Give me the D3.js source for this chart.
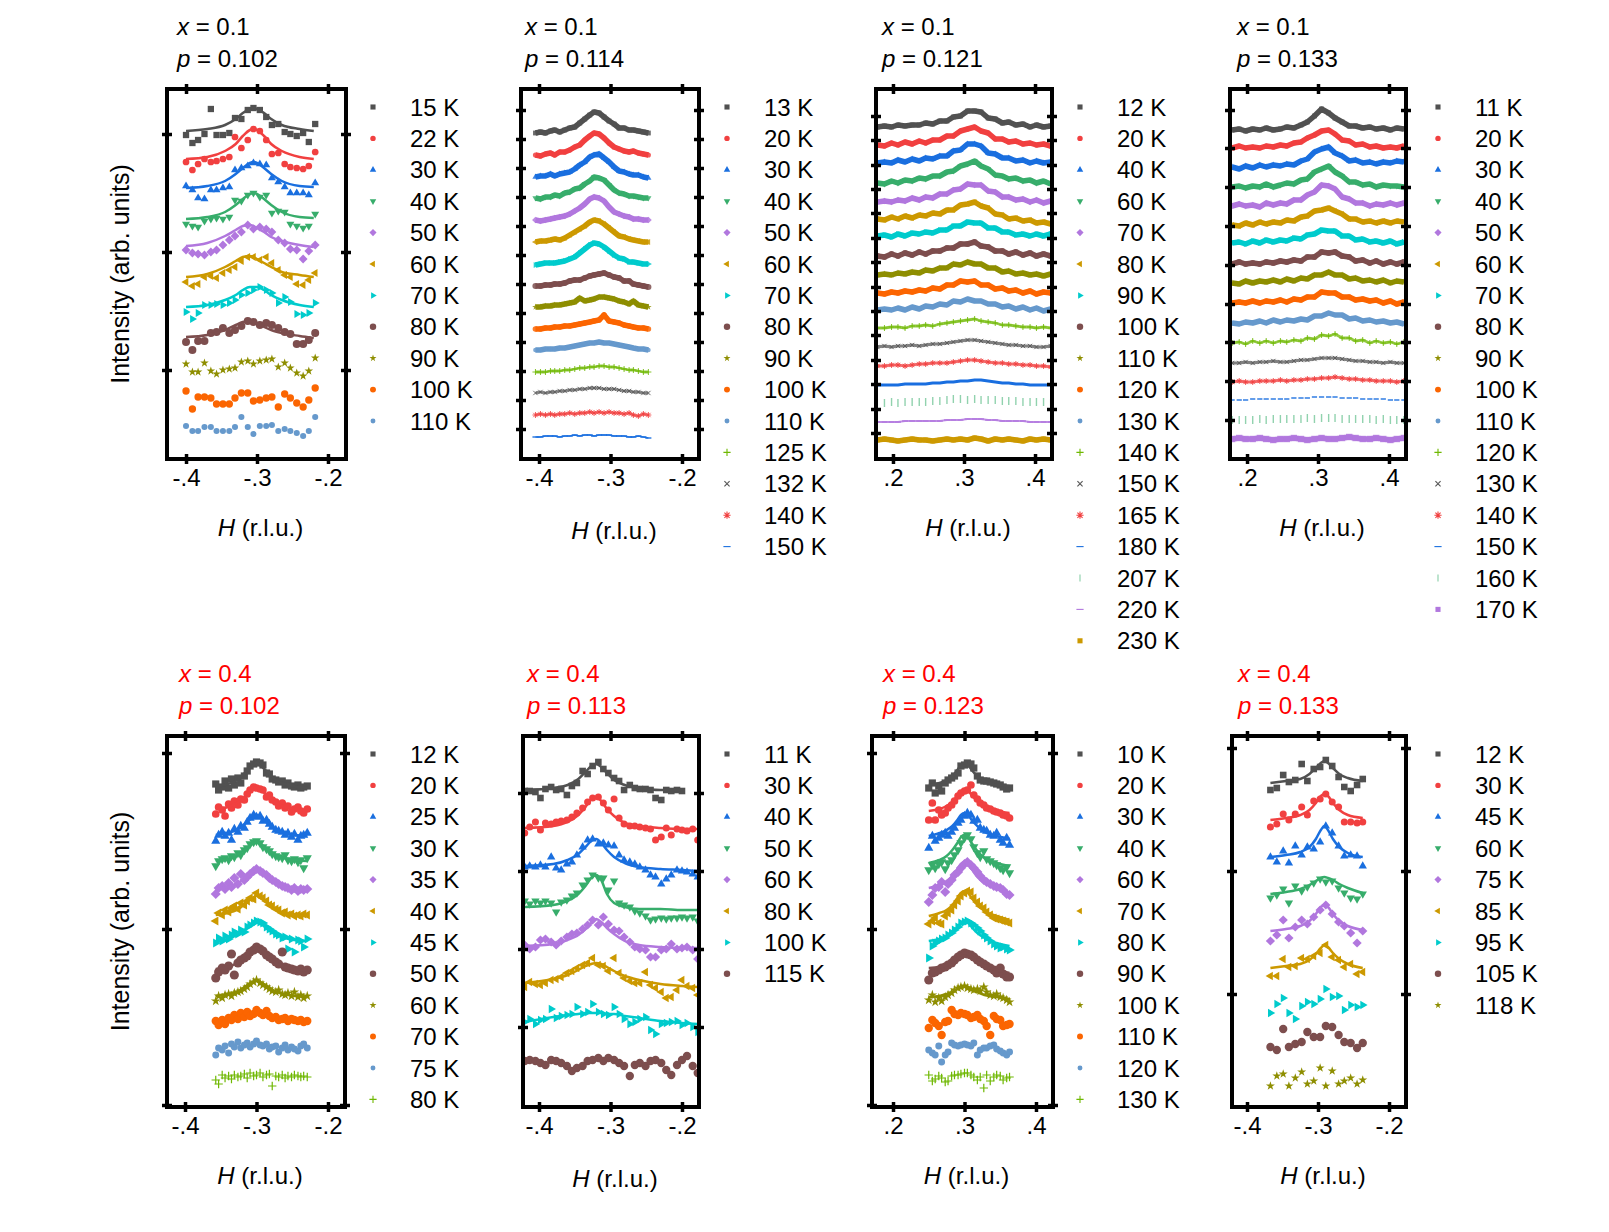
<!DOCTYPE html>
<html><head><meta charset="utf-8">
<script src="https://cdn.jsdelivr.net/npm/d3@7"></script>
<style>body{margin:0;background:#fff}svg{display:block}</style>
</head><body>
<svg id="c" width="1609" height="1232"></svg>
<script>
// ---------------- DATA ----------------
const xTicksNeg = [-0.4, -0.3, -0.2];
const xTicksPos = [0.2, 0.3, 0.4];

// Panel 1: x = 0.1, p = 0.102
const p1_H = [-0.400,-0.391,-0.383,-0.374,-0.365,-0.357,-0.348,-0.339,-0.331,-0.322,-0.313,-0.305,-0.296,-0.287,-0.279,-0.270,-0.261,-0.253,-0.244,-0.235,-0.227,-0.218];
const p1_T = [15,22,30,40,50,60,70,80,90,100,110];
const p1_off = [237,208,180,149,120,90,60,30,0,-30,-58];
const p1_I = [
[-2,-10,-7,-1,24,-2,-2,0,15,14,23,25,23,16,8,9,1,-1,-3,0,-9,9],
[0,-8,-2,3,0,1,3,5,25,14,22,33,31,22,8,9,-2,-5,-6,-7,-4,10],
[4,0,-8,-9,0,0,2,3,20,22,24,27,26,25,12,8,3,-3,-3,-3,-5,7],
[-3,-5,-6,0,2,3,2,4,21,20,26,28,24,26,8,10,9,-3,-5,-7,-5,7],
[0,-3,-4,-5,-2,0,5,10,14,18,25,21,23,21,18,10,7,1,0,-9,-1,5],
[-2,-6,-4,3,4,2,7,10,13,19,23,23,20,23,17,10,5,3,-4,-5,0,7],
[-2,-9,-3,5,5,6,5,7,10,15,17,20,23,20,17,7,13,8,-4,-5,-3,7],
[-2,-10,-1,-1,7,8,12,7,10,14,19,18,15,17,15,12,8,6,-4,-4,0,7],
[6,-2,-2,7,-1,-4,0,1,2,8,9,6,9,10,11,3,7,2,-3,-6,-1,12],
[9,-9,3,3,2,-4,-4,-4,2,7,7,-1,0,2,3,-7,6,2,-3,-7,0,12],
[2,-3,-3,1,1,-3,-3,-3,1,11,1,-6,2,2,3,-3,-1,-3,-5,-8,-3,11]];
const p1_fitH = [-0.40,-0.37,-0.345,-0.33,-0.32,-0.31,-0.305,-0.30,-0.29,-0.28,-0.265,-0.24,-0.22];
const p1_fit = [
[2,4,8,14,20,24,25,24,20,14,8,4,2],
[3,5,11,18,26,32,33,32,26,18,11,5,3],
[2,4,9,16,22,27,28,27,22,16,9,4,3],
[2,4,9,16,22,27,28,27,22,16,9,4,3],
[4,7,14,20,24,25,24,22,18,13,9,5,3],
[3,6,13,19,23,24,23,21,17,13,8,5,3],
[3,5,10,15,20,23,23,23,20,15,10,5,3],
[3,5,10,15,18,19,18,17,13,10,7,4,2],
null,null,null];
const p1_yTicks = [0,118,236];

// Panel 2: x = 0.1, p = 0.114
const p2_H = [-0.405,-0.398,-0.391,-0.384,-0.378,-0.371,-0.364,-0.357,-0.350,-0.343,-0.336,-0.329,-0.323,-0.316,-0.309,-0.302,-0.295,-0.288,-0.281,-0.274,-0.268,-0.261,-0.254,-0.247];
const p2_T = [13,20,30,40,50,60,70,80,90,100,110,125,132,140,150];
const p2_off = [296,274,252,231,209,187,165,143,122,100,79,57,36,14,-8];
const p2_I = [
[0,1,0,2,3,1,3,5,6,10,14,18,21,20,16,12,9,5,5,3,3,2,1,0],
[0,-1,1,2,0,3,3,5,8,10,15,19,22,21,17,12,8,6,4,3,4,2,1,0],
[0,1,1,3,1,3,4,5,8,12,15,20,22,23,19,15,10,6,5,3,2,2,0,-1],
[0,-1,1,1,3,2,5,6,9,10,14,17,21,20,18,13,8,5,4,2,2,1,0,0],
[0,-1,0,1,2,3,4,6,9,12,16,21,23,22,19,13,8,6,4,3,1,1,0,0],
[0,1,1,2,3,2,4,7,10,13,16,20,22,21,18,14,10,6,5,3,2,1,0,0],
[-1,0,1,1,1,2,3,5,7,11,15,19,21,20,17,13,9,6,5,2,2,1,0,0],
[0,0,1,1,2,2,3,5,6,6,8,10,11,12,13,11,9,8,5,5,2,1,0,-1],
[0,0,1,1,2,2,3,4,5,9,6,7,8,10,10,9,8,6,5,3,6,2,1,0],
[0,0,1,1,2,2,3,3,4,5,6,7,8,9,14,8,7,6,4,3,2,1,1,0],
[0,0,1,1,1,2,2,3,4,5,6,7,7,8,7,7,6,5,4,3,2,1,1,0],
[0,0,0,1,1,1,2,2,3,4,4,5,5,6,6,5,5,4,3,2,2,1,0,0],
[0,1,0,1,1,2,2,3,3,4,4,5,5,5,4,4,4,3,2,2,1,1,0,0],
[0,1,0,1,0,1,1,2,1,2,2,3,2,3,2,3,2,2,1,2,0,-1,1,0],
[0,0,1,1,1,0,1,1,2,1,2,2,1,2,2,2,1,1,1,0,0,1,0,-1]];
const p2_yTicks = [0,29,58,87,116,145,174,203,232,261,290,319];

// Panel 3: x = 0.1, p = 0.121
const p3_H = [0.178,0.188,0.198,0.207,0.217,0.227,0.237,0.246,0.256,0.266,0.276,0.285,0.295,0.305,0.315,0.324,0.334,0.344,0.354,0.363,0.373,0.383,0.393,0.402,0.412,0.422];
const p3_T = [12,20,40,60,70,80,90,100,110,120,130,140,150,165,180,207,220,230];
const p3_off = [306,288,270,250,231,214,197,177,158,140,123,105,86,67,48,30,11,-7];
const p3_I = [
[0,1,0,2,1,2,2,4,3,6,6,10,11,16,16,15,9,8,4,5,2,3,0,2,0,1],
[0,-1,2,0,3,1,4,2,5,5,9,9,14,16,18,14,12,6,6,3,4,1,2,0,1,-1],
[0,1,0,3,1,4,2,5,4,7,7,12,13,19,19,17,10,9,5,5,2,3,0,2,0,1],
[0,-1,2,0,3,2,5,4,7,7,11,12,17,19,22,17,14,8,7,4,5,2,3,0,2,-1],
[0,1,0,2,1,4,2,5,4,8,8,12,13,18,17,17,11,10,5,5,2,3,0,2,-1,1],
[0,-1,2,0,3,1,4,3,6,5,9,9,14,15,17,13,11,5,4,0,1,-2,-1,-4,-3,-5],
[0,1,-1,2,0,3,2,4,3,6,6,10,10,14,13,13,8,8,4,4,1,2,0,2,0,2],
[0,-1,2,0,3,1,4,2,5,5,8,8,12,12,14,10,9,5,5,2,4,1,3,0,2,0],
[0,1,0,2,1,3,2,5,4,7,7,11,10,13,11,11,7,7,3,4,1,2,0,1,-1,1],
[0,-1,1,0,2,1,3,2,5,4,8,8,12,11,12,8,8,4,5,2,3,0,2,-1,1,0],
[0,1,0,2,0,3,1,4,3,6,5,9,8,11,9,9,6,6,3,4,1,3,0,2,-1,1],
[0,0,1,1,0,2,2,3,2,4,5,6,7,8,9,7,6,5,3,3,2,1,1,0,1,0],
[0,1,0,1,1,2,1,2,3,3,4,5,6,7,7,6,5,4,3,2,2,1,1,0,0,1],
[0,0,1,1,0,1,2,2,3,3,3,4,5,6,6,5,4,3,3,2,2,1,1,0,0,-1],
[0,0,0,0,1,1,1,1,2,2,3,3,4,4,5,5,4,3,2,2,1,1,0,0,0,0],
[0,0,1,0,1,1,1,1,2,2,3,4,4,3,4,3,3,3,2,2,2,1,1,1,1,0],
[0,0,0,0,1,1,1,1,1,1,2,2,2,3,3,3,2,2,1,1,1,1,0,0,0,0],
[0,1,0,-1,0,1,0,0,-1,0,1,0,1,0,2,1,-1,1,0,1,0,-1,1,0,1,0]];
const p3_yTicks = [0,24,49,73,98,122,146,171,195,220,244,268,293,317];

// Panel 4: x = 0.1, p = 0.133
const p4_H = [0.179,0.189,0.198,0.208,0.218,0.227,0.237,0.247,0.256,0.266,0.276,0.285,0.295,0.305,0.315,0.324,0.334,0.344,0.353,0.363,0.373,0.382,0.392,0.402,0.411,0.421];
const p4_T = [11,20,30,40,50,60,70,80,90,100,110,120,130,140,150,160,170];
const p4_off = [290,272,253,233,214,195,177,156,137,117,97,77,57,38,20,0,-19];
const p4_I = [
[0,1,-1,1,0,2,0,1,3,2,5,8,14,21,17,12,8,4,4,2,3,1,2,0,2,1],
[0,2,0,1,0,2,1,3,2,5,6,10,13,17,18,14,8,7,3,4,1,2,0,1,0,2],
[0,-2,1,-1,2,0,2,1,3,2,6,8,15,18,20,14,11,6,7,4,5,3,5,4,6,5],
[0,1,-1,1,0,3,0,2,4,3,7,8,15,18,21,15,11,5,5,2,3,0,2,1,1,0],
[0,2,0,1,-1,3,1,3,2,6,6,11,14,21,20,17,9,7,3,3,0,2,1,3,1,3],
[0,-1,2,0,3,1,3,2,5,4,8,9,14,15,17,14,11,6,6,3,4,2,4,2,4,3],
[0,1,-1,2,0,3,1,3,2,5,4,8,9,13,12,12,7,7,3,4,1,2,0,2,-1,1],
[0,2,0,1,0,2,1,3,2,4,3,7,7,12,11,12,8,7,3,4,1,3,0,2,0,2],
[0,-1,2,0,2,1,3,1,4,2,5,4,8,8,11,8,8,4,5,2,3,1,3,0,2,1],
[0,1,0,2,0,2,1,3,1,4,3,6,6,11,10,10,6,6,3,4,2,3,0,2,-1,1],
[0,-1,1,0,2,0,3,1,3,2,4,3,7,7,10,8,8,4,5,2,3,1,2,0,1,-1],
[0,1,-1,2,0,2,0,2,1,3,2,5,4,8,7,9,5,5,2,3,0,2,0,1,-1,1],
[0,0,1,0,1,1,2,1,1,2,3,3,4,5,5,5,4,3,2,2,1,1,0,1,0,0],
[0,1,0,0,1,1,1,2,1,2,2,3,3,4,4,5,4,3,3,2,2,1,1,1,0,1],
[0,0,0,1,1,1,1,1,1,2,2,2,3,3,3,3,2,2,2,1,1,1,1,0,0,0],
[0,0,0,0,1,0,1,1,1,1,1,2,1,2,2,2,1,1,1,1,1,0,1,0,0,0],
[0,1,0,0,1,0,-1,0,0,1,0,-1,0,1,0,0,1,2,1,0,0,1,0,-1,0,1]];
const p4_yTicks = [0,39,78,116,155,194,233,272,310];

// Panel 5: x = 0.4, p = 0.102
const p5_H = [-0.357,-0.353,-0.348,-0.344,-0.339,-0.335,-0.331,-0.326,-0.322,-0.317,-0.313,-0.309,-0.304,-0.300,-0.295,-0.291,-0.286,-0.282,-0.278,-0.273,-0.269,-0.264,-0.260,-0.256,-0.251,-0.247,-0.242,-0.238,-0.234,-0.229];
const p5_T = [12,20,25,30,35,40,45,50,60,70,75,80];
const p5_off = [315,293,267,242,213,187,162,133,107,82,55,27];
const p5_I = [
[6,0,3,9,2,11,5,12,7,14,19,24,26,28,27,25,17,16,11,10,8,9,5,7,4,3,5,2,3,4],
[-2,5,2,-4,8,4,11,7,13,12,18,22,25,24,23,22,15,17,12,10,6,9,4,6,0,3,5,1,-1,3],
[-3,3,6,2,5,-2,9,6,12,10,16,20,23,21,22,17,18,14,11,8,7,6,3,5,1,4,-2,2,3,5],
[-3,2,4,5,3,7,6,10,8,13,15,19,21,22,20,16,14,12,9,7,6,5,8,3,2,4,1,3,-5,5],
[-2,4,6,3,9,5,14,8,18,12,15,18,21,23,21,19,17,14,12,10,8,6,5,4,2,4,1,3,2,3],
[-3,5,3,8,6,10,12,9,15,13,17,20,19,25,22,20,17,13,12,9,8,5,6,3,4,2,3,2,4,3],
[0,5,2,7,4,8,11,9,13,11,16,18,20,22,21,20,16,14,12,9,8,5,6,-6,4,-9,3,2,-4,4],
[-6,0,4,2,6,18,-3,9,12,14,16,20,22,25,23,21,17,15,13,10,8,20,5,4,3,2,1,3,0,2],
[-3,2,0,3,4,2,5,6,7,9,11,14,16,18,15,13,11,9,7,6,8,4,3,5,2,6,1,3,0,2],
[2,-2,3,-1,5,3,8,4,10,6,11,7,9,13,10,8,12,7,5,6,3,4,5,2,4,3,2,3,1,2],
[-5,2,0,4,-3,6,3,8,2,5,7,3,6,9,5,4,6,1,3,4,-2,2,5,0,3,1,-1,4,6,2],
[-2,-6,3,0,2,-1,3,1,2,4,0,5,2,3,5,1,3,4,-8,2,1,3,0,2,1,3,2,1,2,1]];
const p5_fitH = [-0.357,-0.340,-0.325,-0.315,-0.308,-0.303,-0.300,-0.297,-0.292,-0.285,-0.275,-0.255,-0.229];
const p5_fit = [
[3,6,11,18,23,26,28,26,23,18,11,5,2],
[3,5,10,16,21,23,25,23,21,16,10,4,2],
[3,5,9,15,19,21,23,21,19,15,9,4,2],
[2,4,9,14,18,20,22,20,18,14,9,4,2],
[3,5,9,15,19,21,23,21,19,15,9,4,2],
[3,5,9,15,19,21,23,21,19,15,9,4,2],
[2,4,9,14,18,20,22,20,18,14,9,4,2],
[3,5,10,16,21,23,25,23,21,16,10,4,2],
[2,4,7,12,15,17,18,17,15,12,7,3,1],
null,null,null];
const p5_yTicks = [0,176,352];

// Panel 6: x = 0.4, p = 0.113
const p6_H = [-0.420,-0.413,-0.405,-0.398,-0.391,-0.383,-0.376,-0.369,-0.361,-0.354,-0.347,-0.339,-0.332,-0.325,-0.317,-0.310,-0.303,-0.295,-0.288,-0.281,-0.273,-0.266,-0.259,-0.251,-0.244,-0.237,-0.229,-0.222,-0.215,-0.207,-0.200,-0.193,-0.185,-0.178];
const p6_T = [11,30,40,50,60,80,100,115];
const p6_off = [236,197,160,119,80,42,5,-36];
const p6_I = [
[0,0,-1,-7,2,4,1,2,-4,5,8,20,17,25,29,22,18,13,10,1,6,3,2,2,1,-7,-9,1,0,1,0],
[-3,3,8,0,7,6,8,9,10,13,17,22,28,32,33,27,20,31,12,6,4,4,3,2,1,-10,-7,2,-5,1,0,-1,1,-10],
[0,1,0,2,0,10,-1,-3,3,5,12,20,27,28,23,24,22,21,12,7,5,3,0,-3,-8,-10,-17,-12,-8,-3,-4,-5,-7,-10],
[7,4,7,5,7,5,-4,6,8,12,15,23,28,33,30,30,18,27,5,3,1,-3,-5,-8,-12,-11,-10,-11,-10,-10,-9,-10,-9,-13],
[2,-2,0,7,8,5,2,6,10,13,14,18,22,27,22,30,23,17,16,10,5,0,-2,-3,-10,-10,-3,-2,3,-2,-1,0,-3,-12],
[-2,3,1,0,2,5,6,8,12,14,17,20,22,27,20,19,14,27,12,7,4,2,2,13,0,-3,-7,-13,-12,-5,5,-1,-3,-10],
[0,3,-2,2,3,13,4,6,7,8,15,8,10,18,10,8,7,15,8,3,-2,0,3,5,-8,-12,-2,-1,0,1,-3,-1,-5,-10],
[2,3,2,0,-2,3,2,0,-3,-8,-5,-3,2,3,5,2,5,3,0,-3,-13,-2,0,-3,2,3,0,-7,-12,-2,3,7,-3,-10]];
const p6_fitH = [-0.42,-0.38,-0.36,-0.345,-0.335,-0.327,-0.320,-0.313,-0.305,-0.295,-0.28,-0.26,-0.23,-0.20,-0.178];
const p6_fit = [
[1,3,6,12,19,25,27,24,18,11,6,3,1,1],
[2,4,8,15,23,31,33,29,21,14,7,4,2,1,1],
[1,3,7,13,20,26,28,24,17,10,4,0,-2,-3,-4],
[1,3,7,14,22,30,33,28,14,5,1,-1,-1,-2,-2],
[1,3,7,12,18,24,28,25,19,13,6,2,0,-1,-1],
[2,6,10,15,19,21,22,21,18,14,9,5,1,-1,-2],
[0,5,7,8,9,9,9,9,8,8,6,4,1,-1,-2],
null];
const p6_yTicks = [0,78,156,234];

// Panel 7: x = 0.4, p = 0.123
const p7_H = [0.250,0.255,0.259,0.264,0.268,0.273,0.277,0.282,0.286,0.291,0.295,0.300,0.304,0.309,0.313,0.318,0.322,0.327,0.331,0.336,0.341,0.345,0.350,0.354,0.359,0.363];
const p7_T = [10,20,30,40,60,70,80,90,100,110,120,130];
const p7_off = [317,292,267,240,215,187,162,135,107,82,55,27];
const p7_I = [
[0,5,-5,2,-3,5,8,10,12,15,22,23,25,24,20,12,8,7,7,6,5,4,3,1,-1,0],
[-7,10,-7,3,-2,0,5,8,12,17,20,22,23,28,18,14,10,8,5,4,2,1,0,-2,-3,-5],
[-10,2,-3,0,3,5,2,6,10,15,18,22,25,23,17,18,10,8,7,3,2,5,-2,-5,0,-7],
[-5,0,-3,1,3,-4,2,5,10,15,22,27,30,26,18,12,8,14,6,4,2,0,-3,-5,-2,-8],
[-12,-5,2,3,8,-2,6,10,15,18,22,26,28,25,22,18,14,10,8,6,4,3,2,0,-4,-5],
[-6,-3,0,-5,-6,2,5,8,13,17,22,25,27,26,20,16,12,10,6,3,0,-1,-2,-3,-4,-5],
[-15,-3,0,2,4,5,8,10,13,16,20,21,22,20,18,15,12,8,5,2,-1,-3,-5,-4,-6,-7],
[-10,-3,-2,0,2,3,5,7,10,13,15,17,16,15,13,10,8,6,4,2,0,-3,2,-4,-7,-7],
[-2,3,-4,0,-3,1,3,5,8,10,11,12,10,9,8,9,7,11,6,3,2,4,1,0,-2,-4],
[-5,3,0,-3,-12,1,2,13,9,8,10,9,8,5,6,8,4,2,-3,-12,7,4,3,-3,-2,-1],
[0,-3,-5,4,-12,-5,-2,7,5,4,5,6,5,4,7,-5,0,2,2,4,5,1,-1,-3,-5,-2],
[3,-3,-1,2,0,-4,-3,2,3,3,4,5,5,3,1,-2,1,-10,3,-3,1,3,2,-2,0,1]];
const p7_fitH = [0.250,0.265,0.275,0.283,0.290,0.295,0.300,0.305,0.310,0.318,0.328,0.345,0.363];
const p7_fit = [
[3,5,8,12,18,23,25,23,18,12,7,3,2],
[2,4,7,11,17,21,23,22,18,12,6,2,0],
[2,5,8,12,18,23,25,23,18,12,6,2,-1],
[2,5,9,15,22,28,30,28,22,14,7,2,-1],
[2,5,9,14,21,26,28,26,21,13,7,2,-3],
[2,5,8,13,20,25,27,25,20,13,7,2,-2],
[2,4,7,11,16,20,22,20,16,10,5,0,-3],
[2,3,5,8,12,16,17,16,13,8,4,0,-3],
[1,2,4,6,9,11,12,11,9,6,3,1,-1],
null,null,null];
const p7_yTicks = [0,176,352];

// Panel 8: x = 0.4, p = 0.133
const p8_H = [-0.367,-0.358,-0.349,-0.341,-0.332,-0.323,-0.315,-0.306,-0.297,-0.289,-0.280,-0.271,-0.263,-0.254,-0.245,-0.237];
const p8_T = [12,30,45,60,75,85,95,105,118];
const p8_off = [211,174,137,100,63,26,-13,-51,-88];
const p8_I = [
[-7,-5,8,1,3,19,2,14,16,23,17,6,-4,-8,-2,4],
[-7,-4,6,0,6,13,5,19,21,26,18,13,-2,-2,-3,-2],
[0,-5,6,-6,11,2,10,8,15,31,24,11,1,2,1,-9],
[-4,-1,5,-9,8,3,7,11,15,12,13,6,1,-4,-5,0],
[-10,-4,11,-7,4,11,7,14,21,26,17,9,5,-2,-12,0],
[-8,-8,9,1,2,10,9,12,15,23,11,8,1,4,-6,-4],
[-6,3,9,-6,-12,1,5,3,8,18,10,11,-3,2,0,2],
[-2,-5,16,-2,1,3,13,8,8,19,18,10,3,2,-3,2],
[-4,6,8,-4,4,10,-2,1,14,-4,11,-2,1,4,-2,2]];
const p8_fitH = [-0.367,-0.345,-0.325,-0.312,-0.303,-0.296,-0.291,-0.286,-0.279,-0.270,-0.258,-0.237];
const p8_fit = [
[0,2,4,9,15,20,22,20,15,9,5,2],
[0,2,5,10,17,24,26,24,17,10,5,2],
[0,2,5,10,18,27,31,27,18,10,4,0],
[0,2,5,9,13,16,17,16,14,10,6,1],
[0,2,5,10,17,24,26,24,17,10,5,1],
[0,2,4,8,14,20,23,21,15,9,4,0],
null,null,null];
const p8_yTicks = [0,123,246];

// ---------------- STYLE ----------------
const COLORS = ["#515151","#F14040","#1A6FDF","#37AD6B","#B177DE","#CC9900","#00CBCC","#7D4E4E","#8E8E00","#FB6501","#6699CC","#6FB802","#555555","#F14040","#1A6FDF","#37AD6B","#B177DE","#CC9900"];
const SYMS = ["square","circle","triUp","triDown","diamond","triLeft","triRight","circle","star","hexagon","circle","plus","cross","asterisk","hdash","vbar","hdash","square"];
const SYM_R = [3,3.2,4.4,4.4,4.2,4.4,4.4,3.8,4.3,3.5,2.9,3.5,3.2,3.5,3.2,3.2,3,3];
const STROKE_SYMS = new Set(["plus","cross","asterisk","hdash","vbar"]);
const FONT = "'Liberation Sans', Arial, Helvetica, sans-serif";
const FS = 24;

const PANELS = [
 {id:1,H:p1_H,T:p1_T,off:p1_off,I:p1_I,fitH:p1_fitH,fit:p1_fit,yTicks:p1_yTicks,xTicks:xTicksNeg,box:[167,89,346,459],xDom:[-0.4268,-0.1746],yDom:[-89,281],legX:373,legY:107,tx:177,ty:35,xv:"0.1",pv:"0.102",red:false,ylab:true,dense:false,hdy:0,ms:1.05},
 {id:2,H:p2_H,T:p2_T,off:p2_off,I:p2_I,fitH:null,fit:null,yTicks:p2_yTicks,xTicks:xTicksNeg,box:[521,89,699,459],xDom:[-0.4252,-0.1762],yDom:[-30,340],legX:727,legY:107,tx:525,ty:35,xv:"0.1",pv:"0.114",red:false,ylab:false,dense:true,hdy:3,ms:1},
 {id:3,H:p3_H,T:p3_T,off:p3_off,I:p3_I,fitH:null,fit:null,yTicks:p3_yTicks,xTicks:xTicksPos,box:[876,89,1052,459],xDom:[0.1761,0.4239],yDom:[-26,344],legX:1080,legY:107,tx:882,ty:35,xv:"0.1",pv:"0.121",red:false,ylab:false,dense:true,hdy:0,ms:1},
 {id:4,H:p4_H,T:p4_T,off:p4_off,I:p4_I,fitH:null,fit:null,yTicks:p4_yTicks,xTicks:xTicksPos,box:[1230,89,1406,459],xDom:[0.176,0.424],yDom:[-39,331],legX:1438,legY:107,tx:1237,ty:35,xv:"0.1",pv:"0.133",red:false,ylab:false,dense:true,hdy:0,ms:1,symOverride:{16:"square"}},
 {id:5,H:p5_H,T:p5_T,off:p5_off,I:p5_I,fitH:p5_fitH,fit:p5_fit,yTicks:p5_yTicks,xTicks:xTicksNeg,box:[167,736,345,1107],xDom:[-0.4252,-0.1762],yDom:[-2,369],legX:373,legY:754,tx:179,ty:682,xv:"0.4",pv:"0.102",red:true,ylab:true,dense:false,hdy:0,ms:1.2},
 {id:6,H:p6_H,T:p6_T,off:p6_off,I:p6_I,fitH:p6_fitH,fit:p6_fit,yTicks:p6_yTicks,xTicks:xTicksNeg,box:[523,736,699,1107],xDom:[-0.4224,-0.1762],yDom:[-80,291],legX:727,legY:754,tx:527,ty:682,xv:"0.4",pv:"0.113",red:true,ylab:false,dense:false,hdy:3,ms:1.1},
 {id:7,H:p7_H,T:p7_T,off:p7_off,I:p7_I,fitH:p7_fitH,fit:p7_fit,yTicks:p7_yTicks,xTicks:xTicksPos,box:[872,736,1053,1107],xDom:[0.1706,0.4238],yDom:[-2,369],legX:1080,legY:754,tx:883,ty:682,xv:"0.4",pv:"0.123",red:true,ylab:false,dense:false,hdy:0,ms:1.2},
 {id:8,H:p8_H,T:p8_T,off:p8_off,I:p8_I,fitH:p8_fitH,fit:p8_fit,yTicks:p8_yTicks,xTicks:xTicksNeg,box:[1232,736,1406,1107],xDom:[-0.4211,-0.1761],yDom:[-113,258],legX:1438,legY:754,tx:1238,ty:682,xv:"0.4",pv:"0.133",red:true,ylab:false,dense:false,hdy:0,ms:1.1}
];

// ---------------- DRAWING ----------------
const svg = d3.select("#c");
svg.append("rect").attr("width",1609).attr("height",1232).attr("fill","#fff");

function symPath(type, r) {
  const q = r * 0.72;
  switch (type) {
    case "square": return `M${-r},${-r}H${r}V${r}H${-r}Z`;
    case "circle": case "hexagon": return d3.symbol(d3.symbolCircle, Math.PI * r * r)();
    case "triUp": return `M0,${-r}L${0.866*r},${0.5*r}L${-0.866*r},${0.5*r}Z`;
    case "triDown": return `M0,${r}L${0.866*r},${-0.5*r}L${-0.866*r},${-0.5*r}Z`;
    case "triLeft": return `M${-r},0L${0.5*r},${-0.866*r}L${0.5*r},${0.866*r}Z`;
    case "triRight": return `M${r},0L${-0.5*r},${-0.866*r}L${-0.5*r},${0.866*r}Z`;
    case "diamond": return `M0,${-r}L${r},0L0,${r}L${-r},0Z`;
    case "star": return d3.symbol(d3.symbolStar, r * r * 1.12)();
    case "plus": return `M${-r},0H${r}M0,${-r}V${r}`;
    case "cross": return `M${-q},${-q}L${q},${q}M${-q},${q}L${q},${-q}`;
    case "asterisk": return `M${-r},0H${r}M0,${-r}V${r}M${-q},${-q}L${q},${q}M${-q},${q}L${q},${-q}`;
    case "hdash": return `M${-r},0H${r}`;
    case "vbar": return `M0,${-r}V${r}`;
  }
}
function symOf(P, k) { return (P.symOverride && P.symOverride[k]) || SYMS[k]; }
function styleMarker(sel, type, color, sw, op) {
  if (STROKE_SYMS.has(type)) sel.attr("fill","none").attr("stroke",color).attr("stroke-width",sw).attr("opacity",op);
  else sel.attr("fill",color).attr("stroke","none").attr("opacity",op);
}
function denseBand(P, k) {
  const s = symOf(P, k);
  if (s === "plus" || s === "cross" || s === "asterisk") return {w:2.8, op:0.75};
  if (s === "hdash") return P.id === 2 ? {w:1.6, op:0.9} : (P.id === 3 ? (k === 16 ? {w:2.2, op:0.8} : {w:2.8, op:1}) : {w:0, op:1});
  if (s === "vbar") return {w:0, op:1};
  return {w:5.5, op:1};
}
function fmtTick(d) { const s = d3.format(".1f")(Math.abs(d)).replace(/^0/, ""); return (d < 0 ? "-" : "") + s; }

PANELS.forEach(P => {
  const [L, Tp, R, B] = P.box;
  const x = d3.scaleLinear().domain(P.xDom).range([L, R]);
  const y = d3.scaleLinear().domain(P.yDom).range([B, Tp]);
  const g = svg.append("g");
  const clipId = "clip" + P.id;
  g.append("clipPath").attr("id", clipId).append("rect").attr("x", L).attr("y", Tp).attr("width", R - L).attr("height", B - Tp);
  const dg = g.append("g").attr("clip-path", `url(#${clipId})`);

  P.T.forEach((t, k) => {
    const color = COLORS[k];
    const type = symOf(P, k);
    const pts = P.I[k].map((v, j) => [P.H[j], P.off[k] + v]);
    const sg = dg.append("g");
    if (P.dense) {
      const band = denseBand(P, k);
      if (band.w > 0) {
        sg.append("path").attr("d", d3.line().x(d => x(d[0])).y(d => y(d[1]))(pts))
          .attr("fill","none").attr("stroke",color).attr("stroke-width",band.w)
          .attr("stroke-linejoin","round").attr("opacity",band.op);
      }
      const stroke = STROKE_SYMS.has(type);
      let r = stroke ? (type === "vbar" ? 4 : (type === "hdash" && P.id === 4 ? 2.6 : 3)) : SYM_R[k] * 0.8;
      if (P.id === 4 && k === 16) r = 3.2;
      sg.selectAll("path.m").data(pts).join("path").attr("class","m")
        .attr("transform", d => `translate(${x(d[0])},${y(d[1])})`)
        .attr("d", symPath(type, r))
        .call(s => styleMarker(s, type, color, type === "vbar" ? 1.4 : (type === "hdash" ? 1.6 : 1), type === "vbar" ? 0.55 : 0.85));
    } else {
      const r = SYM_R[k] * P.ms;
      sg.selectAll("path.m").data(pts).join("path").attr("class","m")
        .attr("transform", d => `translate(${x(d[0])},${y(d[1])})`)
        .attr("d", symPath(type, r))
        .call(s => styleMarker(s, type, color, 1.2, 1));
      if (P.fit && P.fit[k]) {
        const fp = P.fit[k].map((v, j) => [P.fitH[j], P.off[k] + v]);
        sg.append("path").attr("d", d3.line().x(d => x(d[0])).y(d => y(d[1])).curve(d3.curveMonotoneX)(fp))
          .attr("fill","none").attr("stroke",color).attr("stroke-width",2.5);
      }
    }
    // legend
    const ly = P.legY + k * 31.4;
    const lr = STROKE_SYMS.has(type) ? 3.6 : SYM_R[k] * 0.85;
    g.append("path").attr("transform", `translate(${P.legX},${ly})`).attr("d", symPath(type, lr))
      .call(s => styleMarker(s, type, color, 1.1, type === "vbar" ? 0.6 : 1));
    g.append("text").attr("x", P.legX + 37).attr("y", ly + 8.5)
      .attr("font-family", FONT).attr("font-size", FS).attr("fill", "#000").text(`${t} K`);
  });

  // frame
  g.append("rect").attr("x", L).attr("y", Tp).attr("width", R - L).attr("height", B - Tp)
    .attr("fill","none").attr("stroke","#000").attr("stroke-width",4);

  // axes
  const gb = g.append("g").attr("transform", `translate(0,${B})`)
    .call(d3.axisBottom(x).tickValues(P.xTicks).tickFormat(fmtTick).tickSize(5));
  gb.attr("font-family", FONT).attr("font-size", FS);
  gb.select(".domain").remove();
  gb.selectAll(".tick line").attr("y1",-5).attr("y2",5).attr("stroke","#000").attr("stroke-width",3.5);
  gb.selectAll(".tick text").attr("y",27).attr("dy",null).attr("fill","#000");

  const gt = g.append("g").attr("transform", `translate(0,${Tp})`)
    .call(d3.axisTop(x).tickValues(P.xTicks).tickFormat(() => "").tickSize(5));
  gt.select(".domain").remove();
  gt.selectAll(".tick text").remove();
  gt.selectAll(".tick line").attr("y1",-5).attr("y2",5).attr("stroke","#000").attr("stroke-width",3.5);

  const gl = g.append("g").attr("transform", `translate(${L},0)`)
    .call(d3.axisLeft(y).tickValues(P.yTicks).tickFormat(() => "").tickSize(5));
  gl.select(".domain").remove();
  gl.selectAll(".tick text").remove();
  gl.selectAll(".tick line").attr("x1",-5).attr("x2",5).attr("stroke","#000").attr("stroke-width",3.5);

  const gr = g.append("g").attr("transform", `translate(${R},0)`)
    .call(d3.axisRight(y).tickValues(P.yTicks).tickFormat(() => "").tickSize(5));
  gr.select(".domain").remove();
  gr.selectAll(".tick text").remove();
  gr.selectAll(".tick line").attr("x1",-5).attr("x2",5).attr("stroke","#000").attr("stroke-width",3.5);

  // x label
  const hl = g.append("text").attr("x", (L + R) / 2 + 4).attr("y", B + 77 + P.hdy)
    .attr("text-anchor","middle").attr("font-family",FONT).attr("font-size",FS).attr("fill","#000");
  hl.append("tspan").attr("font-style","italic").text("H");
  hl.append("tspan").text(" (r.l.u.)");

  // title
  const tc = P.red ? "#FF0000" : "#000";
  const t1 = g.append("text").attr("x", P.tx).attr("y", P.ty).attr("font-family",FONT).attr("font-size",FS).attr("fill",tc);
  t1.append("tspan").attr("font-style","italic").text("x");
  t1.append("tspan").text(" = " + P.xv);
  const t2 = g.append("text").attr("x", P.tx).attr("y", P.ty + 32).attr("font-family",FONT).attr("font-size",FS).attr("fill",tc);
  t2.append("tspan").attr("font-style","italic").text("p");
  t2.append("tspan").text(" = " + P.pv);

  if (P.ylab) {
    g.append("text").attr("transform", `translate(${L - 38},${(Tp + B) / 2}) rotate(-90)`)
      .attr("text-anchor","middle").attr("font-family",FONT).attr("font-size",FS + 1).attr("fill","#000")
      .text("Intensity (arb. units)");
  }
});
</script>
</body></html>
